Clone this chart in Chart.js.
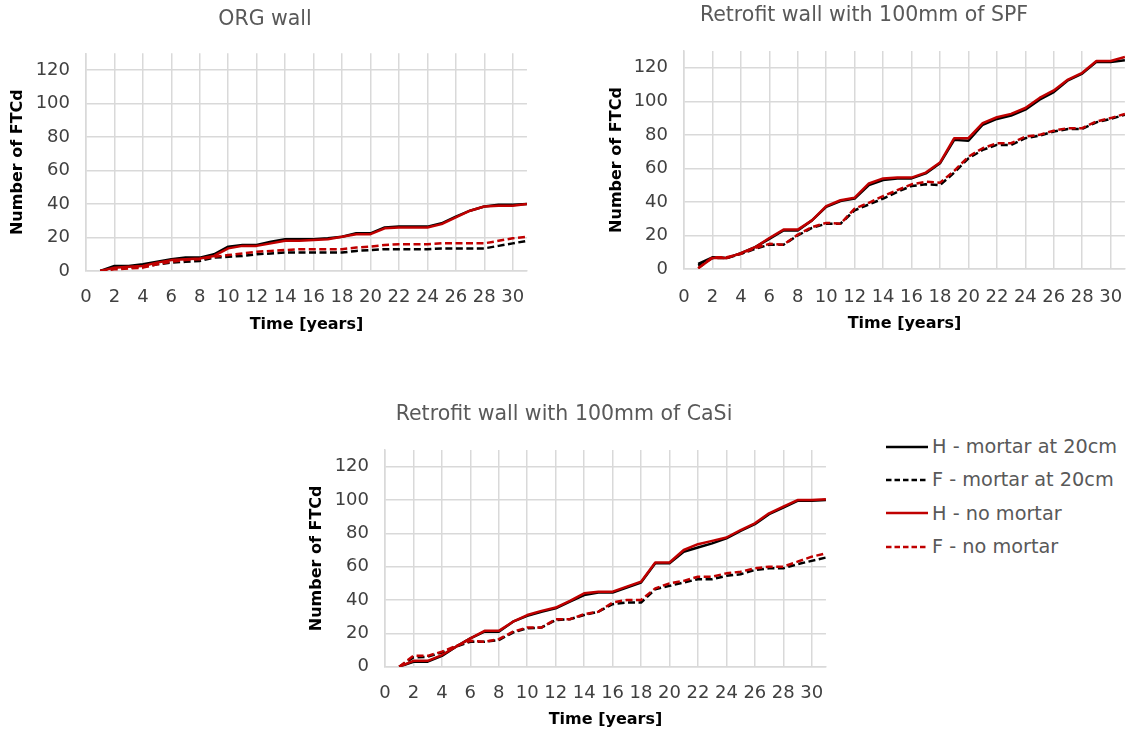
<!DOCTYPE html>
<html>
<head>
<meta charset="utf-8">
<script src="https://cdn.jsdelivr.net/npm/chart.js@4/dist/chart.umd.min.js"></script>
<style>
  html, body { margin: 0; padding: 0; background: #ffffff; width: 1142px; height: 734px; overflow: hidden; }
  canvas { position: absolute; }
  #orgChart { left: 0; top: 0; }
  #spfChart { left: 600px; top: 0; }
  #casiChart { left: 299px; top: 396px; }
  .legend { position: absolute; left: 886px; top: 430px; font-family: "DejaVu Sans", sans-serif; font-size: 19.3px; color: #595959; }
  .legend .row { display: flex; align-items: center; height: 33.3px; white-space: nowrap; }
  .legend svg { display: block; margin-right: 4px; }
</style>
</head>
<body>
<canvas id="orgChart" width="540" height="340"></canvas>
<canvas id="spfChart" width="540" height="340"></canvas>
<canvas id="casiChart" width="540" height="338"></canvas>
<div class="legend" id="legend"></div>

<script>
// Time axis (years) shared by all three walls
const years = [1, 2, 3, 4, 5, 6, 7, 8, 9, 10, 11, 12, 13, 14, 15, 16, 17, 18, 19, 20, 21, 22, 23, 24, 25, 26, 27, 28, 29, 30, 31];

const seriesNames = ['H - mortar at 20cm', 'F - mortar at 20cm', 'H - no mortar', 'F - no mortar'];

// ORG wall
const orgHMortar = [0, 3, 3, 4, 5.5, 7, 8, 8, 10, 14.5, 15.5, 15.5, 17.5, 19, 19, 19, 19.5, 20.5, 22.5, 22.5, 26, 26.5, 26.5, 26.5, 28.5, 32.5, 36, 38.5, 39.5, 39.5, 40];
const orgFMortar = [0, 1.5, 2, 2.5, 4, 5, 5.5, 6, 8, 8.5, 9, 10, 10.5, 11, 11, 11, 11, 11, 12, 12.5, 13, 13, 13, 13, 13.5, 13.5, 13.5, 13.5, 15, 16.5, 18];
const orgHNoMortar = [0, 2, 2.5, 3, 5, 6.5, 7, 7.5, 9, 13.5, 15, 15, 16.5, 18, 18, 18.5, 19, 20.5, 22, 22, 25.5, 26, 26, 26, 28, 32, 36, 38.5, 39, 39, 40];
const orgFNoMortar = [0, 1, 1.5, 2, 4, 5.5, 6.5, 7, 8.5, 9.5, 10.5, 11.5, 12, 12.5, 13, 13, 13, 13, 14, 14.5, 15.5, 16, 16, 16, 16.5, 16.5, 16.5, 16.5, 18, 19.5, 20.5];

// Retrofit wall with 100mm of SPF
const spfHMortar = [3, 7, 6.5, 9.5, 13, 18, 23, 23, 29, 37, 40.5, 42, 50, 53, 54, 54, 57, 63, 77, 76.5, 86, 89.5, 91.5, 95, 101, 105.5, 112.5, 116.5, 123.5, 123.5, 124.5];
const spfFMortar = [2, 6.5, 6.5, 9, 12, 14.5, 14.5, 20, 24.5, 27, 27, 35, 38.5, 42, 46, 49.5, 50.5, 50, 57.5, 66, 71, 74, 74, 78, 79.5, 82, 83.5, 83.5, 87.5, 89.5, 92];
const spfHNoMortar = [0.5, 6.5, 6.5, 9.5, 13, 18.5, 23.5, 23.5, 29, 37.5, 41, 42.5, 51, 54, 54.5, 54.5, 57.5, 63.5, 78, 78, 87, 90.5, 92.5, 96, 102, 106.5, 113, 117, 124, 124, 126.5];
const spfFNoMortar = [0.5, 7, 7, 9, 12.5, 15, 14.5, 20.5, 25, 27.5, 27, 36, 39.5, 43.5, 47, 50.5, 52, 51.5, 58.5, 67, 72, 75, 75, 79, 80, 82.5, 84, 84, 88, 90, 92.5];

// Retrofit wall with 100mm of CaSi
const casiHMortar = [0, 3, 3, 6.5, 12, 17, 21, 21, 27, 30.5, 33, 35, 39, 43, 44.5, 44.5, 47.5, 50.5, 62, 62, 69, 71.5, 74, 77, 81.5, 85.5, 91.5, 95.5, 99.5, 99.5, 100];
const casiFMortar = [0, 5.5, 6, 8.5, 12, 15, 15, 16, 20.5, 23, 23.5, 28, 28.5, 31, 33, 37.5, 38.5, 38.5, 46.5, 48.5, 50.5, 52.5, 52.5, 54.5, 55.5, 58, 59, 59, 61.5, 63.5, 65.5];
const casiHNoMortar = [0, 3.5, 3.5, 7, 12, 17, 21.5, 21.5, 27, 31, 33.5, 35.5, 39.5, 44, 45, 45, 48, 51, 62.5, 62.5, 70, 73.5, 75.5, 77.5, 82, 86, 92, 96, 100, 100, 100.5];
const casiFNoMortar = [0, 6.5, 6.5, 9, 12.5, 15.5, 15, 16.5, 21, 23.5, 23.5, 28.5, 28.5, 31.5, 33, 38.5, 40, 40, 47, 50, 51.5, 54, 54, 56, 57, 59, 60, 60, 63, 66, 68];

// Series styling: H = solid, F = dashed; black with mortar, red without
const seriesColors = ['#000000', '#000000', '#C00000', '#C00000'];
const seriesDashes = [[], [7, 3.5], [], [7, 3.5]];

const FONT = '"DejaVu Sans", sans-serif';

function buildDatasets(valueLists) {
  return valueLists.map((vals, i) => ({
    label: seriesNames[i],
    data: years.map((yr, k) => ({ x: yr, y: vals[k] })),
    borderColor: seriesColors[i],
    backgroundColor: seriesColors[i],
    borderDash: seriesDashes[i],
    borderWidth: 2.5,
    borderCapStyle: 'butt',
    borderJoinStyle: 'round',
    pointRadius: 0,
    tension: 0,
    fill: false,
    order: 4 - i
  }));
}

function makeChart(id, titleText, valueLists, lay) {
  const gridColor = '#d9d9d9';
  return new Chart(document.getElementById(id), {
    type: 'line',
    data: { datasets: buildDatasets(valueLists) },
    options: {
      responsive: false,
      animation: false,
      devicePixelRatio: 1,
      layout: { padding: { left: 0, right: lay.right, top: 0, bottom: 0 } },
      plugins: {
        legend: { display: false },
        tooltip: { enabled: false },
        title: {
          display: true,
          text: titleText,
          color: '#595959',
          font: { family: FONT, size: 20.5, weight: 'normal' },
          padding: { top: lay.titleTop, bottom: lay.titleBottom }
        }
      },
      scales: {
        x: {
          type: 'linear',
          min: 0,
          max: 31,
          afterFit: (s) => { s.height = lay.xHeight; },
          ticks: {
            stepSize: 2,
            includeBounds: false,
            autoSkip: false,
            maxRotation: 0,
            padding: lay.xTickPad,
            color: '#404040',
            font: { family: FONT, size: 18 }
          },
          grid: { color: gridColor, lineWidth: 1.5, drawTicks: false },
          border: { color: gridColor, width: 1.5 },
          title: {
            display: true,
            text: 'Time [years]',
            color: '#000000',
            font: { family: FONT, size: 16, weight: 'bold' },
            padding: { top: 0, bottom: lay.xTitleBottom }
          }
        },
        y: {
          type: 'linear',
          min: 0,
          max: 130,
          afterFit: (s) => { s.width = lay.yWidth; },
          ticks: {
            stepSize: 20,
            includeBounds: false,
            padding: 16,
            color: '#404040',
            font: { family: FONT, size: 18 }
          },
          grid: { color: gridColor, lineWidth: 1.5, drawTicks: false },
          border: { color: gridColor, width: 1.5 },
          title: {
            display: true,
            text: 'Number of FTCd',
            color: '#000000',
            font: { family: FONT, size: 16, weight: 'bold' },
            padding: { top: lay.yTitleTop, bottom: 0 }
          }
        }
      }
    }
  });
}

makeChart('orgChart', 'ORG wall',
  [orgHMortar, orgFMortar, orgHNoMortar, orgFNoMortar],
  { right: 10, titleTop: 7.4, titleBottom: 21.25, xHeight: 69, xTickPad: 15.5, xTitleBottom: 5.4, yWidth: 86, yTitleTop: 8.4 });

makeChart('spfChart', 'Retrofit wall with 100mm of SPF',
  [spfHMortar, spfFMortar, spfHNoMortar, spfFNoMortar],
  { right: 12, titleTop: 3.7, titleBottom: 22.7, xHeight: 71, xTickPad: 17.5, xTitleBottom: 6.4, yWidth: 84, yTitleTop: 7.7 });

makeChart('casiChart', 'Retrofit wall with 100mm of CaSi',
  [casiHMortar, casiFMortar, casiHNoMortar, casiFNoMortar],
  { right: 10, titleTop: 6.7, titleBottom: 22.7, xHeight: 67.3, xTickPad: 15.5, xTitleBottom: 4.4, yWidth: 86, yTitleTop: 8.7 });

// Shared legend for the three charts
const legendEl = document.getElementById('legend');
seriesNames.forEach((name, i) => {
  const row = document.createElement('div');
  row.className = 'row';
  const dash = seriesDashes[i].length ? 'stroke-dasharray="5.5 3"' : '';
  row.innerHTML =
    '<svg width="42" height="6"><line x1="0" y1="3" x2="42" y2="3" stroke="' + seriesColors[i] +
    '" stroke-width="2.4" ' + dash + '/></svg><span>' + name + '</span>';
  legendEl.appendChild(row);
});
</script>
</body>
</html>
